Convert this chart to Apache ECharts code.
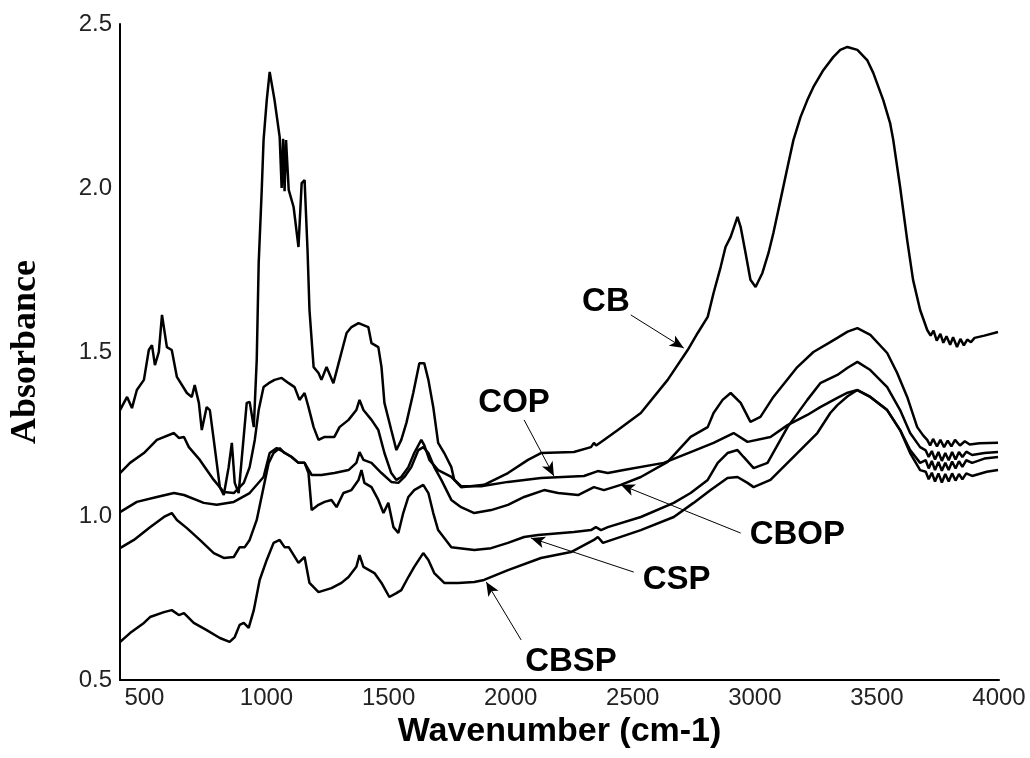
<!DOCTYPE html>
<html>
<head>
<meta charset="utf-8">
<title>FTIR spectra</title>
<script src="https://cdn.jsdelivr.net/npm/echarts@6/dist/echarts.min.js"></script>
<style>
  html, body { margin: 0; padding: 0; background: #fff; }
  #chart { width: 1030px; height: 758px; }
</style>
</head>
<body>
<div id="chart"></div>
<script>
// spectra: [wavenumber (cm-1), absorbance]
const cb = [
  [400, 1.323], [429, 1.363], [449, 1.329], [469, 1.384], [498, 1.415], [518, 1.506], [531, 1.521],
  [543, 1.46], [559, 1.5], [572, 1.613], [592, 1.515], [612, 1.506], [633, 1.424], [674, 1.375],
  [694, 1.363], [706, 1.399], [723, 1.345], [735, 1.262], [755, 1.332], [768, 1.323], [784, 1.232],
  [809, 1.088], [825, 1.064], [845, 1.149], [858, 1.223], [870, 1.101], [886, 1.07], [919, 1.345],
  [931, 1.348], [948, 1.271], [960, 1.476], [968, 1.771], [980, 1.985], [988, 2.146], [1001, 2.268],
  [1013, 2.354], [1021, 2.351], [1033, 2.268], [1054, 2.155], [1062, 2.0], [1068, 2.15], [1074, 1.99],
  [1080, 2.146], [1091, 1.994], [1111, 1.942], [1131, 1.82], [1144, 2.015], [1156, 2.024], [1168, 1.811],
  [1176, 1.628], [1193, 1.454], [1213, 1.436], [1225, 1.415], [1246, 1.454], [1274, 1.405], [1299, 1.476],
  [1328, 1.558], [1348, 1.576], [1377, 1.588], [1417, 1.576], [1430, 1.527], [1458, 1.515], [1471, 1.454],
  [1483, 1.345], [1511, 1.262], [1532, 1.201], [1552, 1.232], [1573, 1.284], [1601, 1.375], [1626, 1.466],
  [1646, 1.466], [1663, 1.415], [1683, 1.332], [1703, 1.223], [1728, 1.192], [1757, 1.149], [1769, 1.11],
  [1797, 1.088], [1891, 1.095], [1989, 1.131], [2071, 1.171], [2124, 1.192], [2259, 1.195], [2329, 1.21],
  [2341, 1.223], [2350, 1.215], [2382, 1.232], [2439, 1.262], [2533, 1.314], [2643, 1.415], [2725, 1.506],
  [2766, 1.558], [2807, 1.607], [2831, 1.68], [2860, 1.759], [2880, 1.82], [2901, 1.851], [2929, 1.912],
  [2942, 1.881], [2962, 1.802], [2982, 1.72], [3003, 1.698], [3031, 1.741], [3056, 1.802], [3076, 1.863],
  [3105, 1.963], [3134, 2.064], [3158, 2.146], [3187, 2.216], [3215, 2.268], [3240, 2.308], [3281, 2.36],
  [3321, 2.399], [3350, 2.421], [3379, 2.43], [3420, 2.421], [3460, 2.39], [3485, 2.351], [3526, 2.268],
  [3554, 2.198], [3567, 2.146], [3595, 2.003], [3624, 1.841], [3648, 1.72], [3677, 1.628], [3706, 1.567],
  [3720, 1.55], [3732, 1.565], [3745, 1.535], [3760, 1.555], [3772, 1.528], [3785, 1.548], [3800, 1.522],
  [3812, 1.545], [3828, 1.515], [3842, 1.54], [3856, 1.52], [3870, 1.538], [3885, 1.53], [3900, 1.543],
  [3940, 1.55], [3996, 1.561]
];
const cop = [
  [400, 1.131], [441, 1.162], [498, 1.192], [551, 1.232], [621, 1.253], [641, 1.238], [662, 1.241],
  [682, 1.21], [727, 1.171], [784, 1.11], [825, 1.073], [866, 1.07], [907, 1.101], [931, 1.149],
  [952, 1.232], [968, 1.323], [988, 1.393], [1009, 1.405], [1033, 1.415], [1062, 1.421], [1091, 1.405],
  [1115, 1.393], [1135, 1.354], [1156, 1.375], [1172, 1.332], [1193, 1.271], [1213, 1.232], [1238, 1.241],
  [1278, 1.241], [1299, 1.271], [1336, 1.293], [1368, 1.323], [1381, 1.354], [1397, 1.323], [1430, 1.293],
  [1458, 1.262], [1483, 1.192], [1511, 1.131], [1532, 1.11], [1552, 1.119], [1581, 1.149], [1605, 1.192],
  [1634, 1.232], [1646, 1.216], [1667, 1.171], [1703, 1.14], [1757, 1.119], [1797, 1.091], [1879, 1.091],
  [1989, 1.104], [2124, 1.116], [2300, 1.122], [2357, 1.137], [2398, 1.131], [2463, 1.14], [2627, 1.162],
  [2737, 1.195], [2831, 1.223], [2913, 1.253], [2970, 1.226], [3064, 1.241], [3134, 1.277], [3215, 1.308],
  [3268, 1.332], [3338, 1.36], [3380, 1.376], [3420, 1.384], [3473, 1.363], [3542, 1.323], [3595, 1.262],
  [3636, 1.201], [3677, 1.162], [3700, 1.17], [3712, 1.145], [3725, 1.168], [3738, 1.14], [3752, 1.165],
  [3766, 1.138], [3780, 1.162], [3794, 1.14], [3808, 1.166], [3822, 1.145], [3836, 1.167], [3850, 1.15],
  [3866, 1.17], [3890, 1.162], [3940, 1.175], [3996, 1.18]
];
const cbop = [
  [400, 1.012], [469, 1.043], [551, 1.058], [621, 1.07], [662, 1.064], [743, 1.04], [796, 1.034],
  [866, 1.043], [931, 1.07], [988, 1.119], [1013, 1.192], [1042, 1.207], [1070, 1.195], [1103, 1.18],
  [1131, 1.162], [1156, 1.162], [1185, 1.125], [1225, 1.125], [1278, 1.131], [1336, 1.14], [1368, 1.162],
  [1381, 1.195], [1397, 1.171], [1430, 1.162], [1471, 1.131], [1511, 1.104], [1540, 1.101], [1565, 1.119],
  [1593, 1.149], [1622, 1.201], [1642, 1.21], [1663, 1.192], [1687, 1.149], [1716, 1.11], [1757, 1.049],
  [1797, 1.027], [1851, 1.009], [1920, 1.018], [1989, 1.034], [2055, 1.058], [2137, 1.079], [2194, 1.07],
  [2276, 1.064], [2341, 1.088], [2382, 1.079], [2451, 1.095], [2533, 1.119], [2643, 1.165], [2737, 1.241],
  [2807, 1.271], [2831, 1.314], [2868, 1.354], [2901, 1.375], [2942, 1.345], [2982, 1.287], [3023, 1.302],
  [3076, 1.363], [3174, 1.454], [3240, 1.5], [3309, 1.53], [3338, 1.543], [3380, 1.562], [3420, 1.573],
  [3473, 1.552], [3542, 1.497], [3583, 1.436], [3624, 1.363], [3665, 1.271], [3690, 1.245], [3706, 1.232],
  [3718, 1.215], [3730, 1.235], [3746, 1.212], [3760, 1.232], [3775, 1.21], [3790, 1.23], [3805, 1.212],
  [3820, 1.232], [3840, 1.215], [3860, 1.228], [3880, 1.218], [3920, 1.222], [3996, 1.223]
];
const csp = [
  [400, 0.902], [457, 0.927], [523, 0.966], [580, 0.997], [612, 1.009], [633, 0.988], [674, 0.963],
  [727, 0.927], [784, 0.887], [825, 0.872], [866, 0.875], [890, 0.905], [911, 0.905], [931, 0.927],
  [960, 0.988], [988, 1.088], [1009, 1.162], [1029, 1.192], [1054, 1.207], [1074, 1.192], [1103, 1.18],
  [1131, 1.162], [1156, 1.162], [1172, 1.131], [1185, 1.018], [1213, 1.034], [1238, 1.043], [1266, 1.049],
  [1287, 1.027], [1315, 1.07], [1348, 1.079], [1377, 1.11], [1389, 1.14], [1401, 1.101], [1430, 1.088],
  [1458, 1.049], [1479, 1.009], [1499, 1.04], [1520, 0.966], [1540, 0.948], [1560, 1.009], [1581, 1.058],
  [1605, 1.079], [1642, 1.095], [1663, 1.07], [1683, 1.009], [1703, 0.957], [1757, 0.905], [1851, 0.896],
  [1920, 0.902], [1989, 0.918], [2055, 0.936], [2112, 0.942], [2259, 0.951], [2329, 0.957], [2349, 0.966],
  [2370, 0.957], [2398, 0.966], [2533, 0.997], [2668, 1.04], [2737, 1.07], [2807, 1.11], [2848, 1.162],
  [2888, 1.192], [2929, 1.201], [2954, 1.18], [2995, 1.146], [3052, 1.162], [3134, 1.271], [3215, 1.354],
  [3268, 1.405], [3338, 1.43], [3380, 1.452], [3420, 1.47], [3473, 1.445], [3542, 1.393], [3595, 1.323],
  [3636, 1.253], [3677, 1.21], [3700, 1.2], [3712, 1.18], [3725, 1.198], [3738, 1.172], [3752, 1.195],
  [3766, 1.168], [3780, 1.192], [3794, 1.17], [3808, 1.195], [3822, 1.172], [3836, 1.195], [3850, 1.18],
  [3866, 1.196], [3890, 1.186], [3940, 1.192], [3996, 1.195]
];
const cbsp = [
  [400, 0.616], [441, 0.643], [498, 0.674], [523, 0.692], [580, 0.707], [612, 0.713], [641, 0.698],
  [662, 0.704], [702, 0.674], [755, 0.652], [809, 0.628], [849, 0.616], [870, 0.631], [890, 0.668],
  [907, 0.674], [927, 0.659], [948, 0.713], [972, 0.805], [1001, 0.866], [1029, 0.918], [1054, 0.927],
  [1074, 0.905], [1091, 0.905], [1131, 0.857], [1156, 0.875], [1176, 0.796], [1213, 0.768], [1266, 0.78],
  [1307, 0.796], [1336, 0.814], [1368, 0.845], [1381, 0.881], [1397, 0.845], [1442, 0.826], [1471, 0.796],
  [1503, 0.753], [1532, 0.765], [1552, 0.774], [1581, 0.814], [1605, 0.845], [1642, 0.887], [1663, 0.866],
  [1687, 0.826], [1728, 0.796], [1785, 0.796], [1851, 0.799], [1891, 0.805], [1989, 0.835], [2124, 0.872],
  [2247, 0.89], [2341, 0.927], [2357, 0.936], [2378, 0.918], [2533, 0.957], [2668, 0.997], [2749, 1.04],
  [2819, 1.079], [2888, 1.116], [2929, 1.119], [2970, 1.101], [2995, 1.088], [3064, 1.11], [3174, 1.192],
  [3256, 1.253], [3309, 1.314], [3338, 1.338], [3380, 1.365], [3420, 1.384], [3473, 1.363], [3542, 1.323],
  [3595, 1.262], [3636, 1.192], [3677, 1.14], [3700, 1.135], [3712, 1.112], [3725, 1.132], [3738, 1.105],
  [3752, 1.13], [3766, 1.102], [3780, 1.128], [3794, 1.105], [3808, 1.13], [3822, 1.108], [3836, 1.128],
  [3850, 1.112], [3866, 1.13], [3890, 1.122], [3950, 1.135], [3996, 1.14]
];
const seriesNames = ['CB', 'COP', 'CBOP', 'CSP', 'CBSP'];
const seriesData = [cb, cop, cbop, csp, cbsp];

// callout labels: name, text centre, arrow start, arrow tip (data units)
const labelNames = ['CB', 'COP', 'CBOP', 'CSP', 'CBSP'];
const labelPos = [[2390, 1.652], [2014, 1.345], [3174, 0.942], [2680, 0.805], [2247, 0.555]];
const arrowFrom = [[2492, 1.613], [2055, 1.293], [2942, 0.948], [2504, 0.829], [2043, 0.622]];
const arrowTo = [[2709, 1.512], [2177, 1.122], [2451, 1.095], [2083, 0.933], [1900, 0.799]];

// x tick labels every 500
const xTicks = [500, 1000, 1500, 2000, 2500, 3000, 3500, 4000];

const chart = echarts.init(document.getElementById('chart'));

const tickFont = {
  color: '#222',
  fontSize: 24,
  fontFamily: "'Liberation Sans Narrow', 'Liberation Sans', Arial, sans-serif",
};

let series = seriesData.map((d, i) => ({
  name: seriesNames[i],
  type: 'line',
  data: d,
  symbol: 'none',
  lineStyle: { color: '#000', width: 2.5 },
  z: 2,
}));

// arrows
series.push({
  type: 'line',
  data: [],
  silent: true,
  markLine: {
    silent: true,
    symbol: ['none', 'arrow'],
    symbolSize: [9, 14],
    label: { show: false },
    lineStyle: { color: '#000', width: 1, type: 'solid' },
    data: arrowFrom.map((p, i) => [{ coord: p }, { coord: arrowTo[i] }]),
  },
});

// label texts
series.push({
  type: 'scatter',
  data: labelPos.map((p, i) => ({ value: p, name: labelNames[i] })),
  symbolSize: 0,
  silent: true,
  itemStyle: { opacity: 1 },
  label: {
    show: true,
    position: 'inside',
    formatter: (p) => p.name,
    color: '#000',
    opacity: 1,
    fontSize: 33,
    fontWeight: 'bold',
    fontFamily: "'Liberation Sans', Arial, sans-serif",
  },
  z: 5,
});

chart.setOption({
  animation: false,
  backgroundColor: '#fff',
  grid: { left: 118, right: 31, top: 24, bottom: 78 },
  xAxis: {
    type: 'value',
    min: 400,
    max: 4000,
    interval: 100,
    name: 'Wavenumber (cm-1)',
    nameLocation: 'middle',
    nameGap: 24,
    nameTextStyle: {
      color: '#000',
      fontSize: 34,
      fontWeight: 'bold',
      fontFamily: "'Liberation Sans', Arial, sans-serif",
    },
    axisLine: { lineStyle: { color: '#000', width: 2 } },
    axisTick: { show: false },
    splitLine: { show: false },
    axisLabel: {
      ...tickFont,
      margin: 6,
      showMinLabel: true,
      showMaxLabel: true,
      interval: 0,
      formatter: (v) => (xTicks.includes(v) ? String(v) : ''),
    },
  },
  yAxis: {
    type: 'value',
    min: 0.5,
    max: 2.5,
    interval: 0.5,
    name: 'Absorbance',
    nameLocation: 'middle',
    nameGap: 76,
    nameTextStyle: {
      color: '#000',
      fontSize: 36,
      fontWeight: 'bold',
      fontFamily: "'Liberation Serif', 'Times New Roman', serif",
    },
    axisLine: { show: true, lineStyle: { color: '#000', width: 2 } },
    axisTick: { show: false },
    splitLine: { show: false },
    axisLabel: {
      ...tickFont,
      margin: 8,
      formatter: (v) => v.toFixed(1),
    },
  },
  series,
});
</script>
</body>
</html>
